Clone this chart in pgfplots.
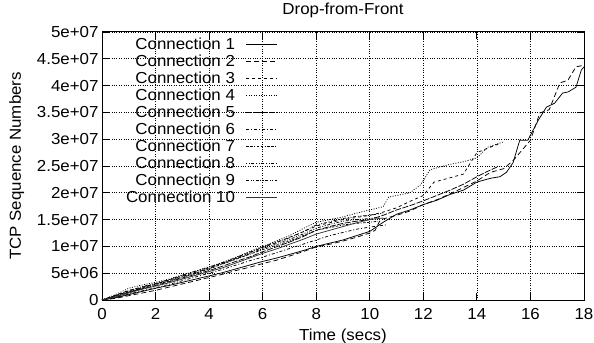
\documentclass[border=0pt]{standalone}
\usepackage{fontspec}
\setmainfont{Liberation Sans}[FakeStretch=1.06]
\usepackage{pgfplots}
\pgfplotsset{compat=1.18}
\begin{document}
\begin{tikzpicture}
\begin{axis}[
  at={(0,0)}, anchor=south west,
  scale only axis, width=482bp, height=268bp,
  xmin=0, xmax=18, ymin=0, ymax=5e7,
  xtick={0,2,...,18},
  xticklabels={0,2,4,6,8,10,12,14,16,18},
  ytick={0,5e6,1e7,1.5e7,2e7,2.5e7,3e7,3.5e7,4e7,4.5e7,5e7},
  yticklabels={0,5e+06,1e+07,1.5e+07,2e+07,2.5e+07,3e+07,3.5e+07,4e+07,4.5e+07,5e+07},
  scaled y ticks=false,
  font=\fontsize{16}{19}\selectfont,
  tick label style={font=\fontsize{16}{19}\selectfont},
  xticklabel style={yshift=-5bp},
  tick align=inside, major tick length=7bp,
  tick style={black, line width=0.8pt},
  axis line style={line width=1pt},
  grid=major, grid style={black, dotted, line width=0.6pt},
  title={Drop-from-Front},
  title style={yshift=5bp},
  xlabel={Time (secs)}, ylabel={TCP Sequence Numbers},
  xlabel style={yshift=-2bp},
  ylabel style={yshift=6bp},
  legend cell align=right,
  legend plot pos=right,
  legend style={draw=none, fill=none, at={(0.365,0.985)}, anchor=north east,
    row sep=-0.1bp, column sep=9bp, inner sep=0pt, font=\fontsize{16}{19}\selectfont},
  legend image code/.code={\draw[#1] (0bp,0bp) -- (31bp,0bp);},
  every axis plot/.append style={black, line width=0.75pt},
]
% 1 solid
\addplot[solid] coordinates {(0,0) (0.5,4e5) (1,1.0e6) (1.5,1.6e6) (2,2.2e6) (2.5,2.7e6) (3,3.3e6) (3.5,3.9e6) (4,4.5e6) (4.5,5.1e6) (5,5.8e6) (5.5,6.5e6) (6,7.2e6) (6.5,7.8e6) (7,8.5e6) (7.5,9.2e6) (8,1.0e7) (8.5,1.06e7) (9,1.12e7) (9.5,1.2e7) (10,1.28e7) (10.5,1.45e7) (11,1.6e7) (11.5,1.68e7) (12,1.78e7) (12.5,1.86e7) (13,1.97e7) (13.5,2.05e7) (14,2.2e7) (14.5,2.27e7) (14.86,2.3e7) (15.1,2.38e7) (15.35,2.56e7) (15.6,2.98e7) (15.9,2.98e7) (16.3,3.36e7) (16.6,3.6e7) (16.9,3.67e7) (17.2,3.86e7) (17.4,3.88e7) (17.7,3.97e7) (17.9,4.29e7) (18,4.35e7)};
\addlegendentry{Connection 1}
% 2 dashed
\addplot[dash pattern=on 5bp off 3bp] coordinates {(0,0) (0.5,3e5) (1,8e5) (1.5,1.3e6) (2,1.8e6) (2.5,2.4e6) (3,3.0e6) (3.5,3.6e6) (4,4.2e6) (4.5,4.8e6) (5,5.5e6) (5.5,6.1e6) (6,6.8e6) (6.5,7.4e6) (7,8.2e6) (7.5,9.0e6) (8,9.9e6) (8.5,1.04e7) (9,1.1e7) (9.5,1.17e7) (10,1.25e7) (10.2,1.3e7) (10.4,1.5e7) (11,1.58e7) (11.5,1.66e7) (12,1.78e7) (12.5,1.87e7) (13,1.98e7) (13.5,2.1e7) (14,2.22e7) (14.5,2.38e7) (15,2.45e7) (15.35,2.6e7) (16,2.98e7) (16.35,3.49e7) (16.7,3.55e7) (17.1,4.05e7) (17.4,4.1e7) (17.7,4.35e7) (18,4.38e7)};
\addlegendentry{Connection 2}
% 3 short dashes
\addplot[dash pattern=on 3bp off 3bp] coordinates {(0,0) (0.5,9e5) (1,1.8e6) (1.5,2.4e6) (2,3.0e6) (2.5,3.7e6) (3,4.5e6) (3.5,5.2e6) (4,6.0e6) (4.5,6.9e6) (5,7.8e6) (5.5,8.8e6) (6,9.8e6) (6.5,1.07e7) (7,1.17e7) (7.5,1.27e7) (8,1.38e7) (8.5,1.44e7) (9,1.5e7) (9.5,1.54e7) (10,1.58e7) (10.5,1.64e7) (11,1.72e7) (11.5,1.84e7) (12,1.95e7) (12.4,2.2e7) (13,2.28e7) (13.5,2.35e7) (14,2.75e7) (14.5,2.85e7) (14.9,2.93e7)};
\addlegendentry{Connection 3}
% 4 dotted
\addplot[dash pattern=on 1bp off 1.5bp] coordinates {(0,0) (0.5,1.0e6) (1,2.2e6) (1.5,2.8e6) (2,3.3e6) (2.5,3.9e6) (3,4.7e6) (3.5,5.4e6) (4,6.2e6) (4.5,7.0e6) (5,8.0e6) (5.5,9.0e6) (6,1.0e7) (6.5,1.1e7) (7,1.2e7) (7.5,1.33e7) (8,1.45e7) (8.5,1.5e7) (9,1.55e7) (9.5,1.62e7) (10,1.68e7) (10.5,1.74e7) (10.7,1.92e7) (11.5,2.0e7) (11.9,2.15e7) (12.25,2.43e7) (12.9,2.52e7) (13.5,2.58e7) (14,2.65e7) (14.4,2.85e7) (15,2.95e7)};
\addlegendentry{Connection 4}
% 5 long dashes
\addplot[dash pattern=on 6bp off 1.5bp] coordinates {(0,0) (0.5,6e5) (1,1.4e6) (1.5,2.1e6) (2,2.7e6) (2.5,3.4e6) (3,4.1e6) (3.5,4.8e6) (4,5.5e6) (4.5,6.3e6) (5,7.2e6) (5.5,8.0e6) (6,9.0e6) (6.5,9.9e6) (7,1.08e7) (7.5,1.18e7) (8,1.3e7) (8.5,1.37e7) (9,1.43e7) (9.5,1.47e7) (10,1.5e7) (10.5,1.58e7) (11,1.68e7) (11.5,1.76e7) (12,1.85e7) (12.5,1.95e7) (13,2.05e7) (13.5,2.16e7) (14,2.3e7) (14.4,2.4e7) (14.75,2.48e7)};
\addlegendentry{Connection 5}
% 6 dash dot
\addplot[dash pattern=on 3bp off 2bp on 1bp off 2bp] coordinates {(0,0) (0.5,5e5) (1,1.1e6) (1.5,1.7e6) (2,2.3e6) (2.5,2.9e6) (3,3.6e6) (3.5,4.3e6) (4,5.0e6) (4.5,5.7e6) (5,6.5e6) (5.5,7.3e6) (6,8.0e6) (6.5,8.8e6) (7,9.6e6) (7.5,1.04e7) (8,1.12e7) (8.5,1.2e7) (9,1.26e7) (9.5,1.32e7) (10,1.36e7) (10.6,1.4e7)};
\addlegendentry{Connection 6}
% 7
\addplot[dash pattern=on 2.5bp off 1.5bp on 2.5bp off 1.5bp on 1bp off 1.5bp] coordinates {(0,0) (0.5,7e5) (1,1.5e6) (1.5,2.2e6) (2,2.9e6) (2.5,3.5e6) (3,4.2e6) (3.5,5.0e6) (4,5.8e6) (4.5,6.7e6) (5,7.6e6) (5.5,8.5e6) (6,9.4e6) (6.5,1.02e7) (7,1.1e7) (7.5,1.2e7) (8,1.3e7) (8.5,1.35e7) (9,1.4e7) (9.5,1.43e7) (10,1.45e7) (10.3,1.47e7)};
\addlegendentry{Connection 7}
% 8
\addplot[dash pattern=on 1bp off 1.5bp on 1bp off 1.5bp on 3bp off 2bp] coordinates {(0,0) (0.5,8e5) (1,1.7e6) (1.5,2.5e6) (2,3.1e6) (2.5,3.8e6) (3,4.6e6) (3.5,5.4e6) (4,6.1e6) (4.5,7.0e6) (5,7.9e6) (5.5,8.9e6) (6,9.9e6) (6.5,1.08e7) (7,1.16e7) (7.5,1.27e7) (8,1.4e7) (8.5,1.46e7) (9,1.52e7) (9.5,1.56e7) (10,1.58e7) (10.5,1.62e7)};
\addlegendentry{Connection 8}
% 9
\addplot[dash pattern=on 3bp off 1.5bp on 1bp off 1.5bp on 1bp off 1.5bp] coordinates {(0,0) (0.5,8e5) (1,1.6e6) (1.5,2.3e6) (2,3.0e6) (2.5,3.7e6) (3,4.4e6) (3.5,5.1e6) (4,5.9e6) (4.5,6.8e6) (5,7.7e6) (5.5,8.6e6) (6,9.6e6) (6.5,1.05e7) (7,1.13e7) (7.5,1.23e7) (8,1.34e7) (8.5,1.41e7) (9,1.47e7) (9.5,1.5e7) (10,1.52e7) (10.4,1.55e7)};
\addlegendentry{Connection 9}
% 10 solid
\addplot[solid, black!80] coordinates {(0,0) (0.5,6e5) (1,1.3e6) (1.5,2.0e6) (2,2.6e6) (2.5,3.2e6) (3,3.9e6) (3.5,4.6e6) (4,5.3e6) (4.5,6.0e6) (5,6.9e6) (5.5,7.8e6) (6,8.7e6) (6.5,9.5e6) (7,1.04e7) (7.5,1.13e7) (8,1.23e7) (8.5,1.3e7) (9,1.37e7) (9.5,1.44e7) (10,1.5e7) (10.5,1.53e7)};
\addlegendentry{Connection 10}
\end{axis}
\pgfresetboundingbox
\path[use as bounding box] (-102bp,-43bp) rectangle (492bp,300bp);
\end{tikzpicture}
\end{document}
